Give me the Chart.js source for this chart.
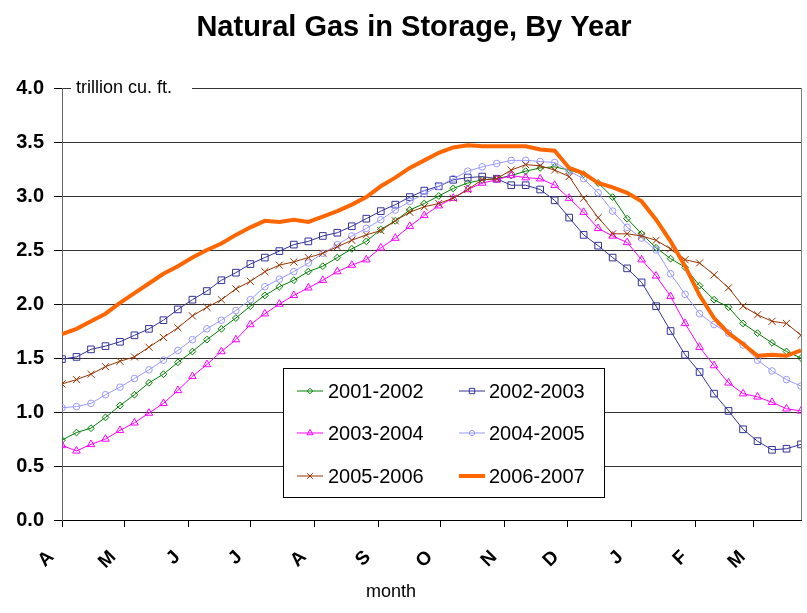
<!DOCTYPE html>
<html>
<head>
<meta charset="utf-8">
<script src="https://cdn.jsdelivr.net/npm/chart.js@4.4.0/dist/chart.umd.min.js"></script>
<style>
  html, body { margin: 0; padding: 0; background: #fff; }
</style>
</head>
<body>
<canvas id="gas" width="807" height="613"></canvas>
<script>
// month letters and the day (from April 1) where each month starts
const monthLabels = ['A', 'M', 'J', 'J', 'A', 'S', 'O', 'N', 'D', 'J', 'F', 'M'];
const monthDays = [0, 30, 61, 91, 122, 153, 183, 214, 244, 275, 306, 334];
const yTicks = [0, 0.5, 1, 1.5, 2, 2.5, 3, 3.5, 4];

// weekly storage, trillion cu. ft., first week of April onwards
const gas2001 = [0.74, 0.81, 0.85, 0.95, 1.06, 1.16, 1.27, 1.35, 1.46, 1.56, 1.67, 1.77, 1.87, 1.98, 2.08,
  2.16, 2.22, 2.30, 2.35, 2.43, 2.51, 2.58, 2.69, 2.77, 2.87, 2.93, 3.00, 3.07, 3.12, 3.15, 3.16, 3.19, 3.23, 3.26,
  3.27, 3.24, 3.20, 3.12, 2.99, 2.79, 2.65, 2.52, 2.42, 2.34, 2.17, 2.04, 1.97, 1.82, 1.73, 1.64, 1.56, 1.50];
const gas2002 = [1.49, 1.51, 1.58, 1.61, 1.65, 1.71, 1.77, 1.85, 1.95, 2.04, 2.12, 2.22, 2.29,
  2.37, 2.43, 2.49, 2.55, 2.58, 2.63, 2.66, 2.72, 2.79, 2.86, 2.92, 2.99, 3.05, 3.09, 3.15, 3.17, 3.18, 3.16, 3.10, 3.10, 3.06,
  2.96, 2.80, 2.64, 2.54, 2.43, 2.33, 2.20, 1.98, 1.75, 1.53, 1.37, 1.17, 1.01, 0.84, 0.73, 0.65, 0.66, 0.70];
const gas2003 = [0.69, 0.64, 0.70, 0.75, 0.83, 0.90, 0.99, 1.08, 1.20, 1.33, 1.44, 1.56, 1.67, 1.81, 1.91,
  2.00, 2.08, 2.15, 2.22, 2.30, 2.36, 2.41, 2.52, 2.61, 2.72, 2.82, 2.91, 2.98, 3.06, 3.12, 3.15, 3.19, 3.17, 3.16,
  3.10, 2.98, 2.85, 2.70, 2.63, 2.57, 2.41, 2.26, 2.07, 1.82, 1.60, 1.43, 1.27, 1.17, 1.14, 1.09, 1.03, 1.01];
const gas2004 = [1.04, 1.05, 1.08, 1.16, 1.23, 1.31, 1.39, 1.48, 1.57, 1.67, 1.77, 1.85, 1.94, 2.04,
  2.16, 2.23, 2.30, 2.38, 2.47, 2.55, 2.63, 2.70, 2.78, 2.87, 2.95, 3.02, 3.09, 3.16, 3.23, 3.27, 3.30, 3.33, 3.33, 3.32,
  3.31, 3.23, 3.16, 3.03, 2.86, 2.71, 2.61, 2.50, 2.28, 2.09, 1.91, 1.81, 1.73, 1.62, 1.48, 1.38, 1.30, 1.24];
const gas2005 = [1.26, 1.30, 1.35, 1.42, 1.47, 1.51, 1.60, 1.69, 1.78, 1.89, 1.97, 2.04, 2.14,
  2.21, 2.30, 2.36, 2.39, 2.43, 2.47, 2.53, 2.59, 2.64, 2.68, 2.77, 2.85, 2.90, 2.93, 2.98, 3.06, 3.15, 3.16, 3.24, 3.29, 3.28,
  3.24, 3.18, 2.98, 2.80, 2.65, 2.65, 2.63, 2.59, 2.51, 2.41, 2.38, 2.27, 2.15, 1.98, 1.90, 1.84, 1.82, 1.71];
const gas2006 = [1.72, 1.77, 1.84, 1.91, 2.01, 2.10, 2.19, 2.28, 2.35, 2.43, 2.50, 2.56, 2.64, 2.71, 2.77,
  2.76, 2.78, 2.76, 2.81, 2.86, 2.92, 2.99, 3.09, 3.17, 3.26, 3.33, 3.40, 3.45, 3.47, 3.46, 3.46, 3.46, 3.46, 3.43,
  3.42, 3.26, 3.21, 3.12, 3.08, 3.03, 2.95, 2.78, 2.58, 2.35, 2.08, 1.87, 1.73, 1.63, 1.52, 1.53, 1.52, 1.57];

const FONT = '"Liberation Sans", Arial, sans-serif';

const pts = arr => arr.map((v, i) => ({ x: i, y: v }));

const mkSet = (label, arr, color, style, r, order) => ({
  label: label,
  data: pts(arr),
  borderColor: color,
  borderWidth: 1,
  pointStyle: style,
  pointRadius: r,
  pointBorderColor: color,
  pointBackgroundColor: 'rgba(0,0,0,0)',
  pointBorderWidth: 1,
  tension: 0,
  order: order
});

const datasets = [
  mkSet('2001-2002', gas2001, '#008000', 'rectRot', 3.4, 5),
  mkSet('2002-2003', gas2002, '#333399', 'rect', 4.7, 4),
  mkSet('2003-2004', gas2003, '#FF00FF', 'triangle', 4.4, 3),
  mkSet('2004-2005', gas2004, '#9999FF', 'circle', 3.3, 2),
  mkSet('2005-2006', gas2005, '#993300', 'crossRot', 5, 1),
  {
    label: '2006-2007',
    data: pts(gas2006),
    borderColor: '#FF6600',
    borderWidth: 4,
    pointRadius: 0,
    tension: 0,
    order: 0
  }
];

// title, unit label, month letters, axis title, right border and the boxed legend
const extras = {
  id: 'extras',
  afterDraw(chart) {
    const ctx = chart.ctx;
    const a = chart.chartArea;
    const xs = chart.scales.x;
    ctx.save();
    ctx.fillStyle = '#000';
    ctx.textAlign = 'center';
    ctx.textBaseline = 'alphabetic';
    ctx.font = 'bold 29px ' + FONT;
    ctx.fillText('Natural Gas in Storage, By Year', 414, 36);
    ctx.font = '18px ' + FONT;
    ctx.fillText('month', 391, 597);

    // slanted month letters, ending just left of each tick
    ctx.font = 'bold 19px ' + FONT;
    ctx.textAlign = 'right';
    ctx.textBaseline = 'middle';
    monthDays.forEach((d, i) => {
      const px = xs.getPixelForValue(d / 7);
      ctx.save();
      ctx.translate(px - 11, a.bottom + 34);
      ctx.rotate(-Math.PI / 4);
      ctx.fillText(monthLabels[i], 0, 0);
      ctx.restore();
    });

    ctx.strokeStyle = '#808080';
    ctx.lineWidth = 1;
    ctx.beginPath();
    ctx.moveTo(a.right + 0.5, a.top);
    ctx.lineTo(a.right + 0.5, a.bottom);
    ctx.stroke();

    ctx.fillStyle = '#fff';
    ctx.fillRect(71, 80, 121, 16);
    ctx.fillStyle = '#000';
    ctx.textAlign = 'left';
    ctx.textBaseline = 'alphabetic';
    ctx.font = '18px ' + FONT;
    ctx.fillText('trillion cu. ft.', 76, 93);

    // legend
    ctx.fillStyle = '#fff';
    ctx.fillRect(283, 368, 321, 129);
    ctx.strokeStyle = '#000';
    ctx.strokeRect(283.5, 368.5, 321, 129);
    const rows = [391, 433, 476];
    chart.data.datasets.forEach((ds, i) => {
      const col = i % 2;
      const y = rows[Math.floor(i / 2)];
      const x0 = col ? 459 : 297;
      ctx.strokeStyle = ds.borderColor;
      ctx.lineWidth = ds.borderWidth;
      ctx.beginPath();
      ctx.moveTo(x0, y);
      ctx.lineTo(x0 + 26, y);
      ctx.stroke();
      if (ds.pointRadius > 0) {
        ctx.lineWidth = 1;
        ctx.fillStyle = 'rgba(0,0,0,0)';
        Chart.helpers.drawPoint(ctx, {
          pointStyle: ds.pointStyle,
          radius: ds.pointRadius * 0.8,
          rotation: 0,
          borderWidth: 1
        }, x0 + 13, y);
      }
      ctx.fillStyle = '#000';
      ctx.font = '20px ' + FONT;
      ctx.fillText(ds.label, col ? 489 : 328, y + 7);
    });
    ctx.restore();
  }
};

new Chart(document.getElementById('gas'), {
  type: 'line',
  data: { datasets: datasets },
  options: {
    responsive: false,
    animation: false,
    devicePixelRatio: 1,
    layout: { padding: { top: 88, right: 6, left: 0, bottom: 0 } },
    plugins: {
      legend: { display: false },
      title: { display: false },
      tooltip: { enabled: false }
    },
    scales: {
      x: {
        type: 'linear',
        min: 0,
        max: 51,
        afterFit: s => { s.height = 93; },
        afterBuildTicks: s => { s.ticks = monthDays.map(d => ({ value: d / 7 })); },
        grid: { drawOnChartArea: false, drawTicks: true, tickLength: 7, tickColor: '#000' },
        border: { color: '#000', width: 1 },
        ticks: { display: false, autoSkip: false }
      },
      y: {
        min: 0,
        max: 4,
        afterFit: s => { s.width = 62; },
        afterBuildTicks: s => { s.ticks = yTicks.map(v => ({ value: v })); },
        grid: { color: '#333', lineWidth: 1, drawTicks: true, tickLength: 8, tickColor: '#000' },
        border: { color: '#666', width: 1 },
        ticks: {
          padding: 10,
          color: '#000',
          font: { family: FONT, size: 20, weight: 'bold' },
          callback: v => v.toFixed(1)
        }
      }
    }
  },
  plugins: [extras]
});
</script>
</body>
</html>
